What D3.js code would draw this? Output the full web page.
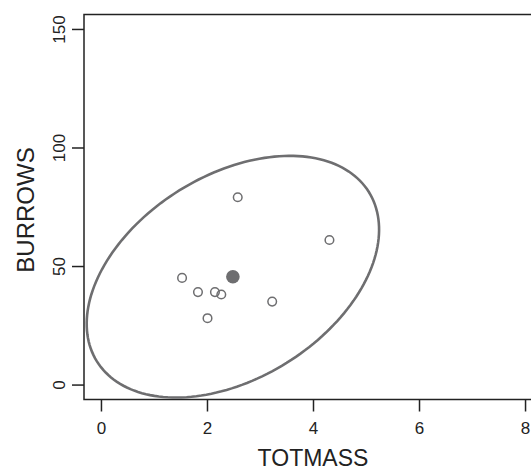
<!DOCTYPE html>
<html><head><meta charset="utf-8">
<script src="https://cdn.jsdelivr.net/npm/d3@7"></script>
<style>body{margin:0;background:#fff}svg{display:block}text{font-family:"Liberation Sans",Arial,sans-serif}</style>
</head><body>
<script>
const totmass = [2.58, 4.31, 1.53, 1.83, 2.15, 2.27, 3.23, 2.01];
const burrows = [79, 61, 45, 39, 39, 38, 35, 28];
const xTicks = [0, 2, 4, 6, 8];
const yTicks = [0, 50, 100, 150];
const xDomain = [-0.32, 8.32];
const yDomain = [-6.3, 156.1];
const ellipseRadius = Math.sqrt(2 * 4.737); // 95% data ellipse, df (2, n-1)

const W = 531, H = 472;
const svg = d3.select("body").append("svg").attr("width", W).attr("height", H);
const x = d3.scaleLinear().domain(xDomain).range([84, 542]);
const y = d3.scaleLinear().domain(yDomain).range([399.5, 14.5]);

svg.append("path").attr("d", `M542,14.5H84V399.5H542`).attr("fill","none").attr("stroke","#222").attr("stroke-width",1.5);

const xa = svg.append("g").attr("transform","translate(0,399.5)")
  .call(d3.axisBottom(x).tickValues(xTicks).tickSize(12).tickPadding(10).tickFormat(d3.format("d")));
xa.select(".domain").remove();
xa.selectAll("line").attr("stroke","#222").attr("stroke-width",1.5);
xa.selectAll("text").attr("font-size",17).attr("fill","#222");

const ya = svg.append("g").attr("transform","translate(84,0)")
  .call(d3.axisLeft(y).tickValues(yTicks).tickSize(12).tickFormat(d3.format("d")));
ya.select(".domain").remove();
ya.selectAll("line").attr("stroke","#222").attr("stroke-width",1.5);
ya.selectAll("text").attr("font-size",17).attr("fill","#222")
  .attr("text-anchor","middle").attr("x",0).attr("dy",0)
  .attr("transform","translate(-19,0) rotate(-90)");

svg.append("text").attr("x",313).attr("y",466).attr("text-anchor","middle").attr("font-size",23).attr("fill","#222").text("TOTMASS");
svg.append("text").attr("transform","translate(34,210) rotate(-90)").attr("text-anchor","middle").attr("font-size",24).attr("fill","#222").text("BURROWS");

// data ellipse
const n = totmass.length;
const mx = d3.mean(totmass), my = d3.mean(burrows);
let sxx=0, syy=0, sxy=0;
for (let i=0;i<n;i++){const dx=totmass[i]-mx, dy=burrows[i]-my; sxx+=dx*dx; syy+=dy*dy; sxy+=dx*dy;}
sxx/=n-1; syy/=n-1; sxy/=n-1;
const sdx=Math.sqrt(sxx), sdy=Math.sqrt(syy), r=sxy/(sdx*sdy);
const ang = Math.acos(r);
const pts = d3.range(0, 361, 2).map(a => {
  const t = a*Math.PI/180;
  return [mx + ellipseRadius*sdx*Math.cos(t + ang/2), my + ellipseRadius*sdy*Math.cos(t - ang/2)];
});
svg.append("path").attr("d", d3.line().x(d=>x(d[0])).y(d=>y(d[1])).curve(d3.curveLinearClosed)(pts))
  .attr("fill","none").attr("stroke","#6e6e70").attr("stroke-width",2.6);

svg.selectAll("circle.pt").data(totmass).join("circle").attr("class","pt")
  .attr("cx",(d)=>x(d)).attr("cy",(d,i)=>y(burrows[i])).attr("r",4.3)
  .attr("fill","none").attr("stroke","#6e6e70").attr("stroke-width",1.5);
svg.append("circle").attr("cx",x(mx)).attr("cy",y(my)).attr("r",6.8).attr("fill","#6e6e70");
</script>
</body></html>
